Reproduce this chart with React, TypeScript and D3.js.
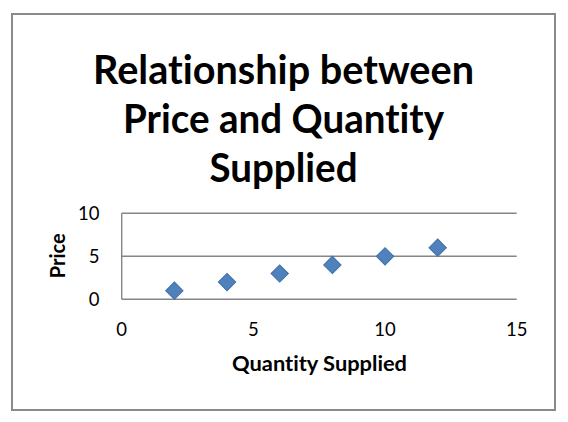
import React from "react";
import * as d3 from "d3";

const quantity = [2, 4, 6, 8, 10, 12];
const price = [1, 2, 3, 4, 5, 6];
const xTicks = [0, 5, 10, 15];
const yTicks = [0, 5, 10];
const titleLines = ["Relationship between", "Price and Quantity", "Supplied"];
const xTitle = "Quantity Supplied";
const yTitle = "Price";

const W = 568;
const H = 422;
const FONT = "Lato, 'Open Sans', sans-serif";
const titleWidths = [381, 321, 148];

export default function App() {
  const x = d3.scaleLinear().domain([0, 15]).range([121.7, 516.7]);
  const y = d3.scaleLinear().domain([0, 10]).range([299.3, 213.3]);
  const diamond = d3.symbol(d3.symbolSquare, 150)();
  const grid = "#868686";
  const noLig = { fontVariantLigatures: "none" as const };

  return (
    <svg
      width={W}
      height={H}
      style={{ position: "absolute", left: 0, top: 0, background: "#fff" }}
    >
      <rect x={12} y={14} width={543} height={396} fill="#fff" stroke="#8a8a8a" strokeWidth={2} />
      {titleLines.map((t, i) => (
        <text
          key={t}
          x={283.5}
          y={83.5 + i * 49}
          textAnchor="middle"
          fontFamily={FONT}
          fontWeight="bold"
          fontSize={41}
          fill="#000"
          textLength={titleWidths[i]}
          lengthAdjust="spacingAndGlyphs"
          style={noLig}
        >
          {t}
        </text>
      ))}
      {yTicks.map((v) => (
        <line key={"g" + v} x1={x(0)} x2={x(15)} y1={y(v)} y2={y(v)} stroke={grid} strokeWidth={1.4} />
      ))}
      <line x1={x(0)} x2={x(0)} y1={y(0)} y2={y(10)} stroke={grid} strokeWidth={1.4} />
      {yTicks.map((v) => (
        <text
          key={"yt" + v}
          x={99.5}
          y={y(v)}
          dy="0.35em"
          textAnchor="end"
          fontFamily={FONT}
          fontSize={18.5}
          fill="#000"
        >
          {v}
        </text>
      ))}
      {xTicks.map((v) => (
        <text
          key={"xt" + v}
          x={x(v)}
          y={330}
          dy="0.35em"
          textAnchor="middle"
          fontFamily={FONT}
          fontSize={18.5}
          fill="#000"
        >
          {v}
        </text>
      ))}
      <text
        x={319.5}
        y={370.5}
        textAnchor="middle"
        fontFamily={FONT}
        fontWeight="bold"
        fontSize={20}
        fill="#000"
        textLength={175}
        lengthAdjust="spacingAndGlyphs"
        style={noLig}
      >
        {xTitle}
      </text>
      <text
        transform={`translate(64.5,255.7) rotate(-90)`}
        textAnchor="middle"
        fontFamily={FONT}
        fontWeight="bold"
        fontSize={20}
        fill="#000"
        textLength={45}
        lengthAdjust="spacingAndGlyphs"
      >
        {yTitle}
      </text>
      {quantity.map((q, i) => (
        <path
          key={"p" + i}
          d={diamond || ""}
          transform={`translate(${x(q)},${y(price[i])}) rotate(45)`}
          fill="#4f81bd"
          stroke="#3f6fa8"
          strokeWidth={1}
        />
      ))}
    </svg>
  );
}
